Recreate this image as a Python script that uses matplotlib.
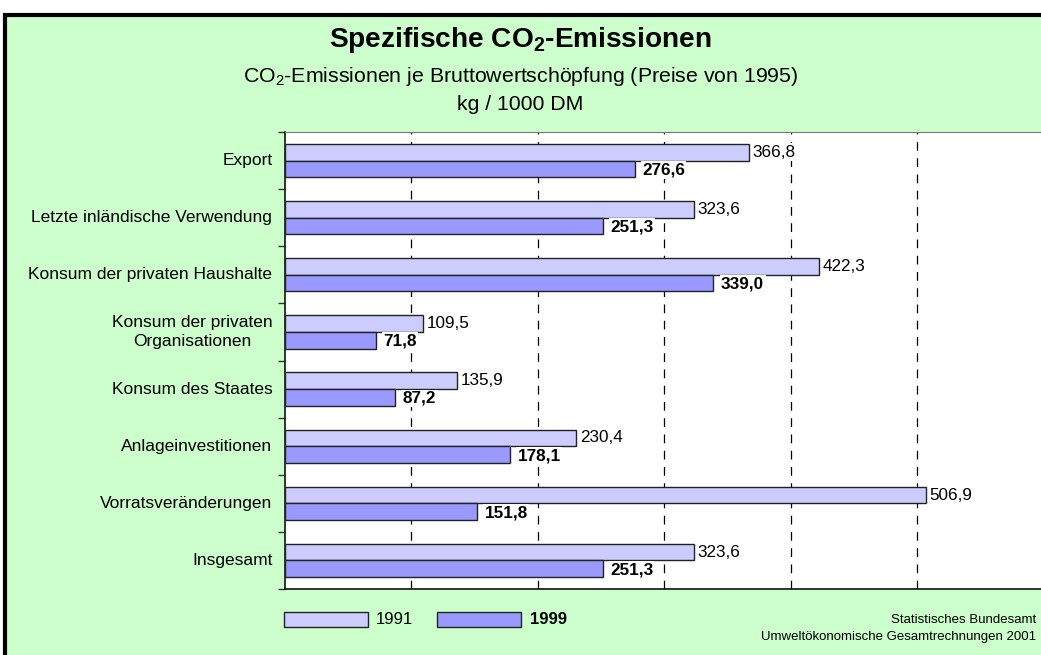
import matplotlib
matplotlib.use("Agg")
import matplotlib.pyplot as plt
from matplotlib.patches import Rectangle

plt.rcParams["font.family"] = ["Liberation Sans", "DejaVu Sans"]
plt.rcParams["mathtext.fontset"] = "custom"
plt.rcParams["mathtext.rm"] = "Liberation Sans"
plt.rcParams["mathtext.bf"] = "Liberation Sans:bold"
plt.rcParams["mathtext.default"] = "rm"

# data
categories = [
    "Export",
    "Letzte inländische Verwendung",
    "Konsum der privaten Haushalte",
    "Konsum der privaten\nOrganisationen",
    "Konsum des Staates",
    "Anlageinvestitionen",
    "Vorratsveränderungen",
    "Insgesamt",
]
values_1991 = [366.8, 323.6, 422.3, 109.5, 135.9, 230.4, 506.9, 323.6]
values_1999 = [276.6, 251.3, 339.0, 71.8, 87.2, 178.1, 151.8, 251.3]
series_labels = ["1991", "1999"]

c91 = "#CCCCFF"
c99 = "#9999FF"
green = "#CCFFCC"

fig = plt.figure(figsize=(10.41, 6.55), dpi=100)
fig.patch.set_facecolor("white")

# green frame with black border (right/bottom run off the picture)
frame = Rectangle((5 / 1041, -0.2), 1.2, (1 - 14.5 / 655) + 0.2,
                  transform=fig.transFigure, facecolor=green,
                  edgecolor="black", linewidth=3, zorder=-10)
fig.patches.append(frame)

ax = fig.add_axes([285 / 1041, 1 - 589 / 655, 758.4 / 1041, 457 / 655])
ax.set_facecolor("white")

n = len(categories)
ypos = list(range(n))
h = 0.29
y91 = [y - h / 2 for y in ypos]
y99 = [y + h / 2 for y in ypos]

ax.barh(y91, values_1991, height=h, color=c91, edgecolor="#222222", linewidth=1, zorder=3)
ax.barh(y99, values_1999, height=h, color=c99, edgecolor="#222222", linewidth=1, zorder=3)

box = dict(facecolor="white", edgecolor="none", pad=1.0)
for y, v in zip(y91, values_1991):
    ax.text(v + 3, y, f"{v:.1f}".replace(".", ","), va="center", ha="left",
            fontsize=12.3, color="black", zorder=4, bbox=box)
for y, v in zip(y99, values_1999):
    ax.text(v + 6, y + 0.02, f"{v:.1f}".replace(".", ","), va="center", ha="left",
            fontsize=12.3, fontweight="bold", color="black", zorder=4, bbox=box)

ax.set_xlim(0, 600)
ax.set_ylim(n - 0.5, -0.5)
ax.set_xticks([100, 200, 300, 400, 500])
ax.set_xticklabels([])
ax.tick_params(axis="x", length=0)
ax.grid(axis="x", color="black", linestyle=(0, (7, 6)), linewidth=0.9, zorder=1)

ax.set_yticks([y + 0.5 for y in range(-1, n)])
ax.set_yticklabels([])
ax.tick_params(axis="y", length=5, width=1, color="#333333", direction="out")
for y, lab in zip(ypos, categories):
    ax.text(-10, y, lab, ha="right", va="center", fontsize=12.5, clip_on=False,
            multialignment="center", linespacing=1.3)

ax.spines["right"].set_visible(False)
ax.spines["top"].set_color("#777777")
ax.spines["left"].set_color("#111111")
ax.spines["bottom"].set_color("#111111")
ax.spines["left"].set_linewidth(1.2)
ax.spines["bottom"].set_linewidth(1.2)

# titles
fig.text(0.5, 1 - 40 / 655, "Spezifische CO$_\\mathbf{2}$-Emissionen", ha="center",
         va="center", fontsize=20.2, fontweight="bold")
fig.text(0.5, 1 - 77 / 655, "CO$_2$-Emissionen je Bruttowertschöpfung (Preise von 1995)",
         ha="center", va="center", fontsize=15.3)
fig.text(0.5, 1 - 104 / 655, "kg / 1000 DM", ha="center", va="center", fontsize=15.3)

# legend
for x0, x1, col, lab, tx, wt in [(284, 368, c91, series_labels[0], 376, "normal"),
                                  (437, 521, c99, series_labels[1], 530, "bold")]:
    fig.patches.append(Rectangle((x0 / 1041, 1 - 627 / 655), (x1 - x0) / 1041, 15 / 655,
                                 transform=fig.transFigure, facecolor=col,
                                 edgecolor="#222222", linewidth=1))
    fig.text(tx / 1041, 1 - 620 / 655, lab, ha="left", va="center", fontsize=12,
             fontweight=wt)

# source
fig.text(1036 / 1041, 1 - 620 / 655, "Statistisches Bundesamt", ha="right", va="center",
         fontsize=9.5)
fig.text(1036 / 1041, 1 - 637 / 655, "Umweltökonomische Gesamtrechnungen 2001", ha="right",
         va="center", fontsize=9.5)

fig.savefig("out.png", dpi=100, facecolor="white")
